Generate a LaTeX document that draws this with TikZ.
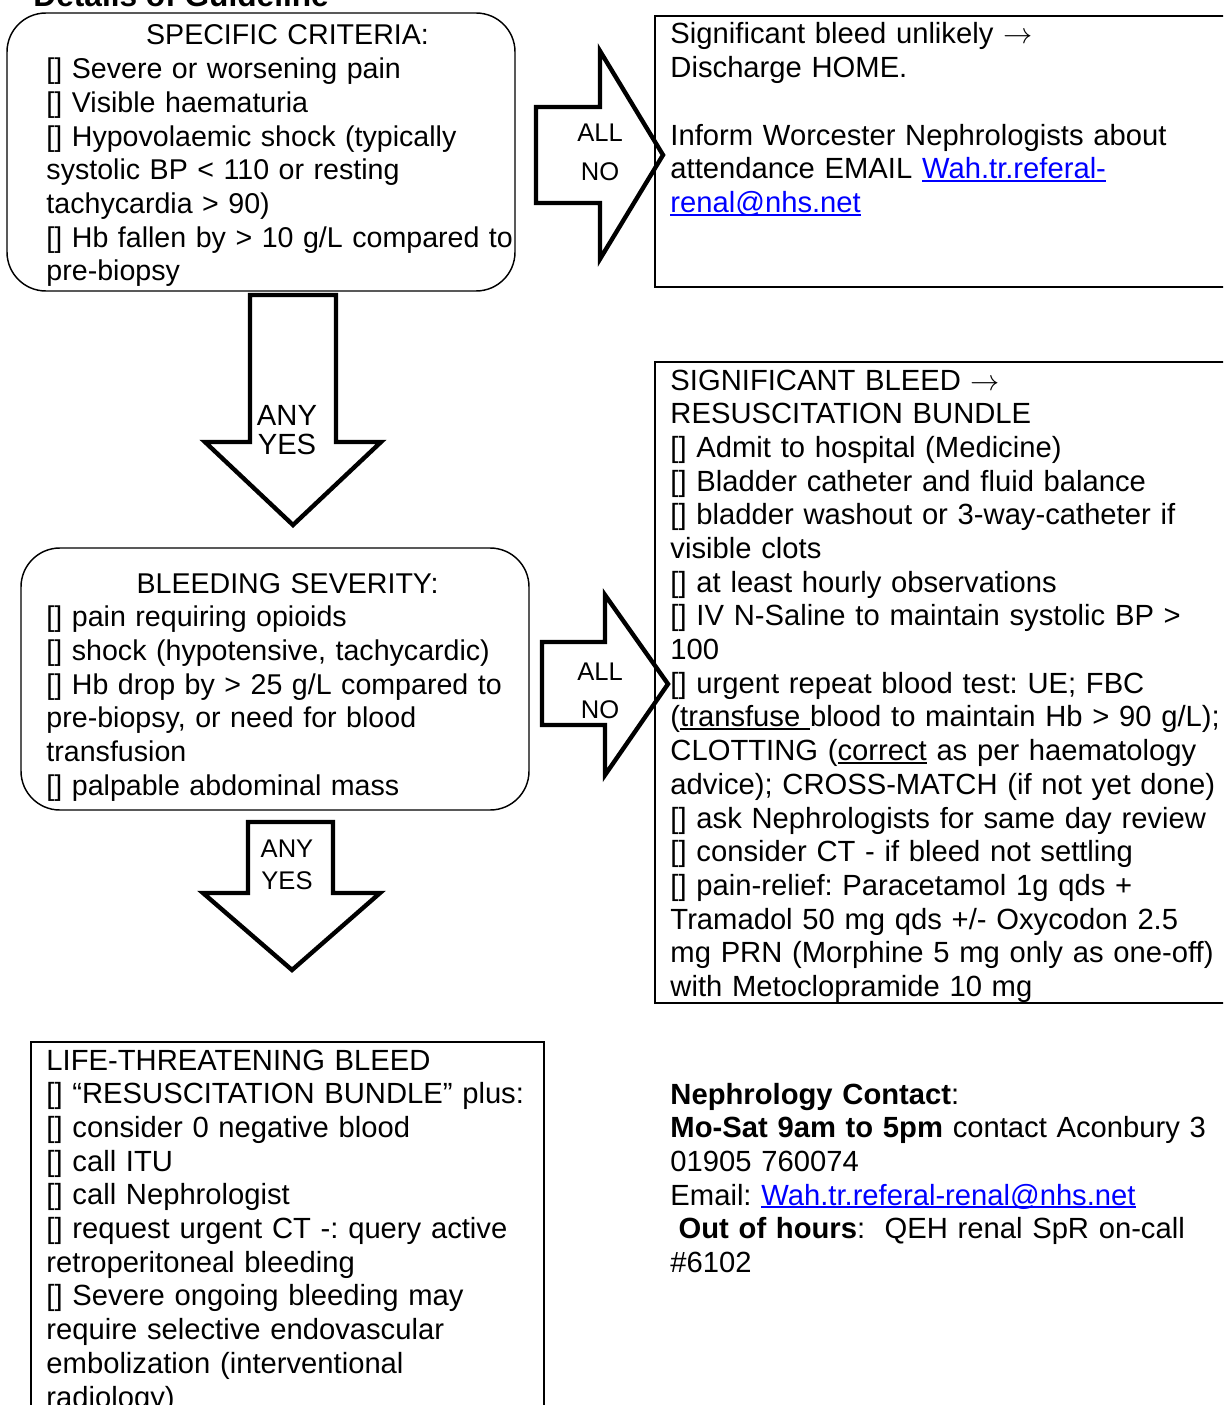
\documentclass[tikz,border=0pt]{standalone}
\usepackage{fontspec}
\setmainfont{Liberation Sans}
\definecolor{linkblue}{RGB}{0,0,255}
\newdimen\pxu \pxu=0.411pt
\newcommand{\tickbox}{{[]}}
\newcommand{\uln}[1]{\setbox0\hbox{#1}\leavevmode\rlap{\rule[-0.11em]{\wd0}{0.07em}}\box0\relax}
\newcommand{\weblink}[1]{{\color{linkblue}\uln{#1}}}
\begin{document}
\frenchspacing
\begin{tikzpicture}[x=0.411pt,y=-0.411pt,
  roundbox/.style={draw, line width=0.6pt, rounded corners=16pt, anchor=north west, inner sep=0pt, outer sep=0pt},
  squarebox/.style={draw, line width=0.8pt, anchor=north west, inner sep=0pt, outer sep=0pt},
  boxtext/.style={anchor=base west, inner sep=0pt, align=left, font=\fontsize{12pt}{13.85pt}\selectfont},
  blockarrow/.style={draw, fill=white, line width=1.8pt, miter limit=10},
  arrowtext/.style={anchor=base, inner sep=0pt, align=center, text width=90*\pxu}]
\useasboundingbox (0,0) rectangle (1223,1405);
\clip (0,0) rectangle (1223,1405);
\node[anchor=base west, inner sep=0pt, font=\bfseries\fontsize{13pt}{15pt}\selectfont] (title) at (33,7) {Details of Guideline};
% block arrows
\draw[blockarrow] (536,107) -- (600,107) -- (600,51) -- (663,155) -- (600,259) -- (600,203) -- (536,203) -- cycle;
\draw[blockarrow] (250,295) -- (336,295) -- (336,442) -- (381,442) -- (293,525) -- (205,442) -- (250,442) -- cycle;
\draw[blockarrow] (542,642) -- (605,642) -- (605,595) -- (668,684) -- (605,775) -- (605,725) -- (542,725) -- cycle;
\draw[blockarrow] (248,822) -- (333,822) -- (333,893) -- (380,893) -- (292,970) -- (203,893) -- (248,893) -- cycle;
\node[arrowtext, font=\fontsize{10.5pt}{16pt}\selectfont] (allno1) at (600,142) {ALL\\NO};
\node[arrowtext, font=\fontsize{12pt}{12.3pt}\selectfont] (anyyes1) at (287,425) {ANY\\YES};
\node[arrowtext, font=\fontsize{10.5pt}{16pt}\selectfont] (allno2) at (600,680) {ALL\\NO};
\node[arrowtext, font=\fontsize{10.5pt}{13.2pt}\selectfont] (anyyes2) at (287,857) {ANY\\YES};
% frames
\node[roundbox, minimum width=508*\pxu, minimum height=278*\pxu] (crit) at (7,13) {};
\node[roundbox, minimum width=508*\pxu, minimum height=262*\pxu] (sev) at (21,548) {};
\node[squarebox, minimum width=513*\pxu, minimum height=500*\pxu] (life) at (31,1042) {};
\node[squarebox, minimum width=700*\pxu, minimum height=271*\pxu] (home) at (655,16) {};
\node[squarebox, minimum width=700*\pxu, minimum height=641*\pxu] (bundle) at (655,362) {};
% texts
\node[boxtext, text width=482*\pxu, font=\fontsize{11.75pt}{13.85pt}\selectfont] (critT) at (46,45) {\makebox[\linewidth]{SPECIFIC CRITERIA:}\\
\tickbox{} Severe or worsening pain\\
\tickbox{} Visible haematuria\\
\tickbox{} Hypovolaemic shock (typically\\
systolic BP < 110 or resting\\
tachycardia > 90)\\
\tickbox{} Hb fallen by > 10 g/L compared to\\
pre-biopsy};
\node[boxtext, text width=482*\pxu, font=\fontsize{11.75pt}{13.85pt}\selectfont] (sevT) at (46,593) {\makebox[\linewidth]{BLEEDING SEVERITY:}\\
\tickbox{} pain requiring opioids\\
\tickbox{} shock (hypotensive, tachycardic)\\
\tickbox{} Hb drop by > 25 g/L compared to\\
pre-biopsy, or need for blood\\
transfusion\\
\tickbox{} palpable abdominal mass};
\node[boxtext, text width=495*\pxu] (lifeT) at (46,1070) {LIFE-THREATENING BLEED\\
\tickbox{} “RESUSCITATION BUNDLE” plus:\\
\tickbox{} consider 0 negative blood\\
\tickbox{} call ITU\\
\tickbox{} call Nephrologist\\
\tickbox{} request urgent CT -: query active\\
retroperitoneal bleeding\\
\tickbox{} Severe ongoing bleeding may\\
require selective endovascular\\
embolization (interventional\\
radiology)};
\node[boxtext, text width=560*\pxu] (homeT) at (670,44) {Significant bleed unlikely $\rightarrow$\\
Discharge HOME.\\
\mbox{}\\
Inform Worcester Nephrologists about\\
attendance EMAIL \weblink{Wah.tr.referal-}\\
\weblink{renal@nhs.net}};
\node[boxtext, text width=560*\pxu] (bundleT) at (670,390) {SIGNIFICANT BLEED $\rightarrow$\\
RESUSCITATION BUNDLE\\
\tickbox{} Admit to hospital (Medicine)\\
\tickbox{} Bladder catheter and fluid balance\\
\tickbox{} bladder washout or 3-way-catheter if\\
visible clots\\
\tickbox{} at least hourly observations\\
\tickbox{} IV N-Saline to maintain systolic BP >\\
100\\
\tickbox{} urgent repeat blood test: UE; FBC\\
(\uln{transfuse }blood to maintain Hb > 90 g/L);\\
CLOTTING (\uln{correct} as per haematology\\
advice); CROSS-MATCH (if not yet done)\\
\tickbox{} ask Nephrologists for same day review\\
\tickbox{} consider CT - if bleed not settling\\
\tickbox{} pain-relief: Paracetamol 1g qds +\\
Tramadol 50 mg qds +/- Oxycodon 2.5\\
mg PRN (Morphine 5 mg only as one-off)\\
with Metoclopramide 10 mg};
\node[boxtext, text width=560*\pxu] (contactT) at (670,1104) {\textbf{Nephrology Contact}:\\
\textbf{Mo-Sat 9am to 5pm} contact Aconbury 3\\
01905 760074\\
Email: \weblink{Wah.tr.referal-renal@nhs.net}\\
\hspace*{0.28em}\textbf{Out of hours}:\ \ QEH renal SpR on-call\\
\#6102};
\end{tikzpicture}
\end{document}
